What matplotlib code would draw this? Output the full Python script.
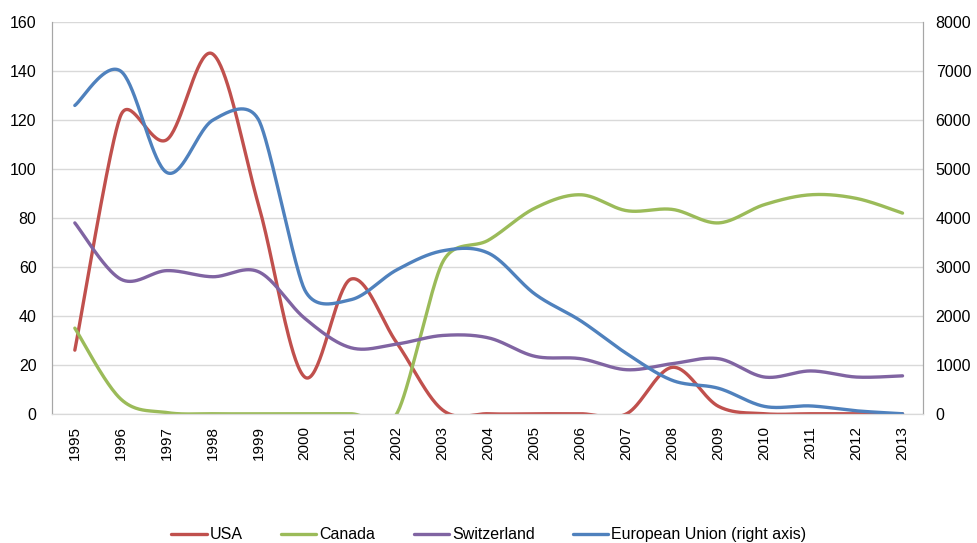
import numpy as np
import matplotlib
matplotlib.use("Agg")
import matplotlib.pyplot as plt

plt.rcParams['font.family'] = ['Liberation Sans', 'DejaVu Sans']

# data
years = list(range(1995, 2014))
usa = [26, 122, 112, 147, 85, 15, 55, 29, 1.5, 0, 0, 0, 0, 19, 3, 0, 0, 0, 0]
canada = [35, 6, 0.5, 0, 0, 0, 0, 0, 62, 71, 84, 89.5, 83, 83.5, 78, 85.5, 89.5, 88, 82]
switzerland = [78, 55, 58.5, 56, 58, 39, 27, 28.5, 32, 31, 23.5, 22.5, 18, 20.5, 22.5, 15, 17.5, 15, 15.5]
eu = [6300, 7000, 4930, 6000, 6000, 2530, 2330, 2940, 3330, 3280, 2450, 1900, 1230, 680, 520, 150, 160, 60, 0]


def smooth(x, y, kx, ky, n=40):
    # excel-style smoothed line: bezier in pixel space, f=1/6 with a clamp
    p = np.column_stack([np.asarray(x, float) * kx, np.asarray(y, float) * ky])
    N = len(p)
    tan = []
    for i in range(N):
        a = p[max(i - 1, 0)]
        b = p[min(i + 1, N - 1)]
        d02 = b - a
        L = np.hypot(*d02)
        d01 = np.hypot(*(p[i] - a))
        d12 = np.hypot(*(b - p[i]))
        short = min(d01 if i > 0 else d12, d12 if i < N - 1 else d01)
        f = 1 / 6
        if L / 6 > short / 2:
            f = short / (2 * L)
        tan.append(d02 * f)
    out = []
    t = np.linspace(0, 1, n, endpoint=False)[:, None]
    for i in range(N - 1):
        p0, p1 = p[i], p[i + 1]
        c0 = p0 + tan[i]
        c1 = p1 - tan[i + 1]
        b = (1-t)**3 * p0 + 3*(1-t)**2*t * c0 + 3*(1-t)*t**2 * c1 + t**3 * p1
        out.append(b)
    out.append(p[-1:])
    out = np.vstack(out)
    return out[:, 0] / kx, out[:, 1] / ky


fig = plt.figure(figsize=(9.78, 5.43), dpi=100)
ax = fig.add_axes([0.053, 0.238, 0.891, 0.721])
ax2 = ax.twinx()

cols = {'USA': '#C0504D', 'Canada': '#9BBB59', 'Switzerland': '#8064A2',
        'European Union (right axis)': '#4F81BD'}

px_year = 46.0
px_left = 392 / 160
px_right = 392 / 8000

lines = []
for name, vals in [('USA', usa), ('Canada', canada), ('Switzerland', switzerland)]:
    sx, sy = smooth(years, vals, px_year, px_left)
    l, = ax.plot(sx, sy, color=cols[name], lw=2.4, label=name, solid_capstyle='round')
    lines.append(l)
sx, sy = smooth(years, eu, px_year, px_right)
l, = ax2.plot(sx, sy, color=cols['European Union (right axis)'], lw=2.4,
              label='European Union (right axis)', solid_capstyle='round')
lines.append(l)

ax.set_xlim(1994.5, 2013.45)
ax.set_ylim(0, 160)
ax2.set_ylim(0, 8000)
ax.set_yticks(range(0, 161, 20))
ax2.set_yticks(range(0, 8001, 1000))
ax.set_xticks(years)
ax.set_xticklabels([str(y) for y in years], rotation=90)

ax.yaxis.grid(True, color='#D9D9D9', lw=1)
ax.set_axisbelow(True)
for a in (ax, ax2):
    a.spines['top'].set_visible(False)
    a.spines['left'].set_color('#A6A6A6')
    a.spines['right'].set_color('#A6A6A6')
    a.spines['bottom'].set_color('#D9D9D9')
    a.tick_params(length=0, labelsize=11.5, colors='black')
ax.tick_params(axis='x', pad=9, labelsize=11)
ax.tick_params(axis='y', pad=11)
ax2.tick_params(axis='y', pad=9)

fig.legend(handles=lines, loc='lower center', bbox_to_anchor=(0.5, -0.025), ncol=4,
           frameon=False, fontsize=11.5, handlelength=2.2, handletextpad=0.2,
           columnspacing=2.4)

fig.savefig('out.png', dpi=100)
